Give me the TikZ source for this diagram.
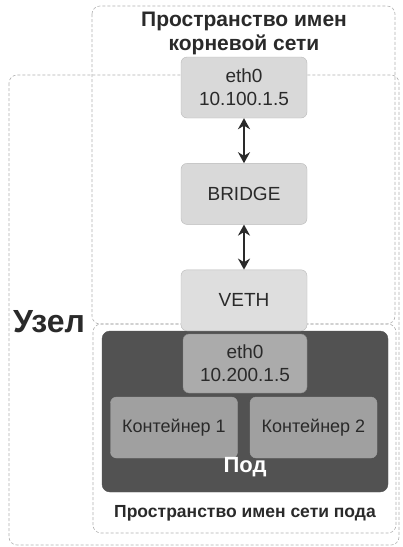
\documentclass[tikz,border=0pt]{standalone}
\usepackage{fontspec}
\setmainfont{Liberation Sans}
\usepackage{xcolor}
\usetikzlibrary{positioning, arrows.meta}

\definecolor{boxgray}{HTML}{D9D9D9}
\definecolor{vethgray}{HTML}{DEDEDE}
\definecolor{podgray}{HTML}{525252}
\definecolor{ifgray}{HTML}{ABABAB}
\definecolor{ctgray}{HTML}{A0A0A0}
\definecolor{txtgray}{HTML}{2A2A2A}

\begin{document}
\begin{tikzpicture}[
    x=1pt, y=-1pt,
    node distance=45pt,
    box/.style={rounded corners=6pt, minimum width=126pt, minimum height=61pt, align=center,
      font=\fontsize{19}{23}\selectfont, text=txtgray, fill=boxgray, draw=gray!55, line width=0.4pt},
    frame/.style={draw=gray!60, densely dashed, line width=0.6pt, rounded corners=8pt},
    label/.style={font=\bfseries\fontsize{21}{24}\selectfont, align=center, text=txtgray},
    >={Stealth[length=11pt, width=12pt]}
  ]
    \useasboundingbox[fill=white] (0,0) rectangle (403,547);
    % namespaces and node
    \draw[frame] (9,75) rectangle (399,545);
    \draw[frame] (92,6) rectangle (395,324);
    \draw[frame] (93,324) rectangle (396,533);
    \draw[fill=podgray, draw=podgray, rounded corners=8pt] (102,331) rectangle (388,492);

    \node[label] (rootns) at (244,33) {Пространство имен\\корневой сети};
    \node[label, font=\bfseries\fontsize{32}{36}\selectfont] (node) at (49,322) {Узел};

    \node[box] (eth0) at (244,87.5) {eth0\\10.100.1.5};
    \node[box, below=of eth0] (bridge) {BRIDGE};
    \node[box, fill=vethgray, below=of bridge] (veth) {VETH};
    \node[box, fill=ifgray, draw=ifgray!80!black, minimum width=124pt, minimum height=59pt] (podeth0) at (245,363.5) {eth0\\10.200.1.5};
    \node[box, fill=ctgray, draw=ctgray, minimum width=127pt, font=\fontsize{18}{22}\selectfont] (ct1) at (174,427.5) {Контейнер 1};
    \node[box, fill=ctgray, draw=ctgray, minimum width=127pt, font=\fontsize{18}{22}\selectfont] (ct2) at (313.5,427.5) {Контейнер 2};

    \node[label, text=white, font=\bfseries\fontsize{22}{24}\selectfont] (pod) at (245,467) {Под};
    \node[label, font=\bfseries\fontsize{17.5}{20}\selectfont] (podns) at (245,513) {Пространство имен сети пода};

    \draw[<->, line width=2.4pt, txtgray] (eth0) -- (bridge);
    \draw[<->, line width=2.4pt, txtgray] (bridge) -- (veth);
  \end{tikzpicture}
\end{document}
